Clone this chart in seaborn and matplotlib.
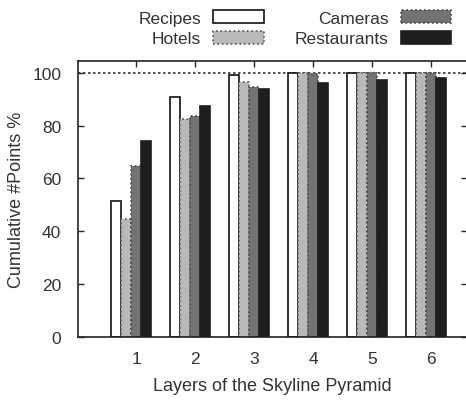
import numpy as np
import pandas as pd
import matplotlib
matplotlib.use('Agg')
import matplotlib.pyplot as plt
from matplotlib.patches import Patch
import seaborn as sns

# Данные
layers = ['1', '2', '3', '4', '5', '6']
datasets = ['Recipes', 'Hotels', 'Cameras', 'Restaurants']
recipes = [51.5, 91.0, 99.0, 100.0, 100.0, 100.0]
hotels = [44.5, 82.5, 96.7, 100.0, 100.0, 100.0]
cameras = [64.8, 83.6, 94.6, 99.6, 100.0, 100.0]
restaurants = [74.2, 87.6, 93.7, 96.2, 97.2, 98.1]

df = pd.DataFrame({
    'Layer': layers * 4,
    'Points': recipes + hotels + cameras + restaurants,
    'Dataset': np.repeat(datasets, len(layers)),
})

colors = ['#ffffff', '#b9b9b9', '#737373', '#1e1e1e']
edges = ['#111111', '#555555', '#444444', '#1e1e1e']
styles = ['-', ':', ':', '-']

sns.set_style('ticks')
plt.rcParams['font.family'] = ['Liberation Sans', 'DejaVu Sans']
fs = 12.5
text_color = '#333333'

fig = plt.figure(figsize=(4.66, 4.10), dpi=100)
ax = fig.add_axes([0.167, 0.176, 0.836, 0.673])
sns.barplot(data=df, x='Layer', y='Points', hue='Dataset', palette=colors,
            width=0.68, saturation=1, ax=ax, legend=False)
for cont, ec, ls in zip(ax.containers, edges, styles):
    for bar in cont:
        bar.set_edgecolor(ec)
        bar.set_linestyle(ls)
        bar.set_linewidth(1.2)

ax.axhline(100, color='#333333', lw=1.2, ls=(0, (1.5, 1.5)), zorder=0.5)

ax.set_xlim(-0.9, 5.71)
ax.set_ylim(0, 104.5)
ax.set_yticks(range(0, 101, 20))
ax.set_xticks(np.arange(len(layers)) + 0.09, layers)
ax.tick_params(direction='in', top=True, right=True, length=4, width=1,
               labelsize=fs, labelcolor=text_color)
ax.tick_params(axis='y', pad=12)
ax.tick_params(axis='x', pad=10)
for s in ax.spines.values():
    s.set_linewidth(1.2)
    s.set_color('#222222')
ax.set_xlabel('Layers of the Skyline Pyramid', color=text_color, fontsize=13, labelpad=8)
ax.set_ylabel('Cumulative #Points %', color=text_color, fontsize=13, labelpad=5)

handles = [Patch(facecolor=c, edgecolor=e, linestyle=l, linewidth=1.2)
           for c, e, l in zip(colors, edges, styles)]
fig.legend(handles, datasets, ncol=2, loc='upper center',
           bbox_to_anchor=(0.633, 1.0), markerfirst=False, frameon=False,
           fontsize=fs, handlelength=2.9, handleheight=0.75, labelspacing=0.3,
           columnspacing=1.8, handletextpad=0.7, borderpad=0.15,
           labelcolor=text_color)

fig.savefig('out.png', dpi=100)
